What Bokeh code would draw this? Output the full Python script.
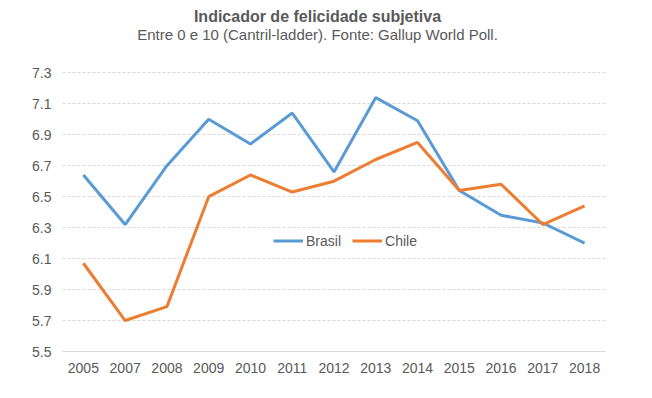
from bokeh.plotting import figure
from bokeh.models import (FactorRange, Range1d, Legend, LegendItem, Label,
                          FixedTicker, ColumnDataSource, CustomJSTickFormatter)
from bokeh.embed import file_html
from bokeh.resources import INLINE

years = ["2005", "2007", "2008", "2009", "2010", "2011", "2012",
         "2013", "2014", "2015", "2016", "2017", "2018"]
brasil = [6.64, 6.32, 6.70, 7.00, 6.84, 7.04, 6.66,
          7.14, 6.99, 6.54, 6.38, 6.33, 6.20]
chile = [6.07, 5.70, 5.79, 6.50, 6.64, 6.53, 6.60,
         6.74, 6.85, 6.54, 6.58, 6.32, 6.44]
y_ticks = [5.5, 5.7, 5.9, 6.1, 6.3, 6.5, 6.7, 6.9, 7.1, 7.3]
title_text = "Indicador de felicidade subjetiva"
subtitle_text = "Entre 0 e 10 (Cantril-ladder). Fonte: Gallup World Poll."

FONT = "Liberation Sans"
TXT = "#595959"

# frame spans the whole height so the titles (drawn as labels) are not clipped;
# the extra headroom above 7.3 is empty space for the titles
y_min, y_max = 5.5, 7.3
px_per_unit = (351 - 72.3) / (y_max - y_min)
y_top = y_max + 72.3 / px_per_unit

p = figure(width=652, height=398, x_range=FactorRange(*years),
           y_range=Range1d(y_min, y_top), output_backend="svg",
           toolbar_location=None, min_border_left=62, min_border_right=47,
           min_border_top=0, min_border_bottom=47)
p.outline_line_color = None

src = ColumnDataSource(dict(x=years, b=brasil, c=chile))
rb = p.line("x", "b", source=src, line_color="#5B9BD5", line_width=3)
rc = p.line("x", "c", source=src, line_color="#ED7D31", line_width=3)

p.yaxis.ticker = FixedTicker(ticks=y_ticks)
p.yaxis.formatter = CustomJSTickFormatter(code="return tick.toFixed(1);")
p.yaxis.axis_line_color = None
p.yaxis.major_tick_line_color = None
p.yaxis.minor_tick_line_color = None
p.yaxis.major_tick_out = 0
p.yaxis.major_tick_in = 0
p.yaxis.major_label_text_font = FONT
p.yaxis.major_label_text_font_size = "14px"
p.yaxis.major_label_text_color = TXT
p.yaxis.major_label_standoff = 11

p.xaxis.axis_line_color = "#D9D9D9"
p.xaxis.axis_line_width = 1
p.xaxis.major_tick_line_color = None
p.xaxis.minor_tick_line_color = None
p.xaxis.major_tick_out = 0
p.xaxis.major_tick_in = 0
p.xaxis.major_label_text_font = FONT
p.xaxis.major_label_text_font_size = "14px"
p.xaxis.major_label_text_color = TXT
p.xaxis.major_label_standoff = 11

p.xgrid.grid_line_color = None
p.ygrid.grid_line_color = "#D9D9D9"
p.ygrid.grid_line_dash = "3 2"
p.ygrid.ticker = FixedTicker(ticks=y_ticks[1:])

legend = Legend(items=[LegendItem(label="Brasil", renderers=[rb]),
                       LegendItem(label="Chile", renderers=[rc])],
                orientation="horizontal", location=(211, 102),
                padding=0, margin=0, spacing=11, label_standoff=3,
                glyph_width=30, glyph_height=17, label_height=17,
                label_text_font=FONT, label_text_font_size="14px",
                label_text_color=TXT, border_line_color=None,
                background_fill_alpha=0)
p.add_layout(legend, "center")

p.add_layout(Label(x=255, y=335, x_units="screen", y_units="screen",
                   text=title_text, text_align="center",
                   text_baseline="alphabetic", text_font=FONT,
                   text_font_size="16px", text_font_style="bold",
                   text_color=TXT))
p.add_layout(Label(x=255, y=317, x_units="screen", y_units="screen",
                   text=subtitle_text, text_align="center",
                   text_baseline="alphabetic", text_font=FONT,
                   text_font_size="15px", text_color=TXT))

open("out.html", "w").write(file_html(p, INLINE))
